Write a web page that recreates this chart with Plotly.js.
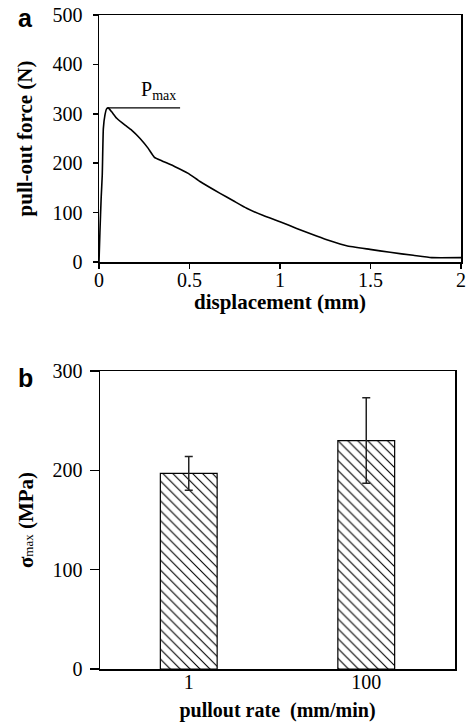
<!DOCTYPE html>
<html>
<head>
<meta charset="utf-8">
<script src="https://cdn.plot.ly/plotly-3.0.1.min.js"></script>
<style>html,body{margin:0;padding:0;background:#fff;}#chart{width:470px;height:726px;}</style>
</head>
<body>
<div id="chart"></div>
<script>
// Panel a: force-displacement curve
const displacement = [0, 0.005, 0.012, 0.018, 0.024, 0.033, 0.042, 0.051, 0.07, 0.098, 0.144, 0.18, 0.227, 0.272, 0.306, 0.346, 0.42, 0.493, 0.558, 0.669, 0.742, 0.816, 0.908, 1.0, 1.092, 1.202, 1.276, 1.368, 1.497, 1.608, 1.736, 1.838, 2.0];
const force = [0, 60, 130, 176, 270, 298, 310, 312, 304, 291, 277, 267, 250, 230, 212, 205, 193, 179.5, 163, 139, 124, 108.7, 94, 81.6, 68, 52.6, 43, 33, 25.6, 19.6, 13.5, 8.8, 8.8];
const pmaxLineX = [0.051, 0.448];
const pmaxLineY = [312, 312];

// Panel b: max stress by pullout rate
const rates = ["1", "100"];
const sigmaMax = [197, 230];
const sigmaErr = [17, 43];

const serif = "Liberation Serif, Times New Roman, serif";
const W = 470, H = 726;

const traces = [
  {x: displacement, y: force, type: 'scatter', mode: 'lines', line: {color: '#000', width: 1.6, shape: 'spline', smoothing: 0.4}, xaxis: 'x', yaxis: 'y', hoverinfo: 'skip'},
  {x: pmaxLineX, y: pmaxLineY, type: 'scatter', mode: 'lines', line: {color: '#000', width: 1.4}, xaxis: 'x', yaxis: 'y', hoverinfo: 'skip'},
  {x: rates, y: sigmaMax, type: 'bar', xaxis: 'x2', yaxis: 'y2', width: 0.32,
   marker: {color: '#fff', line: {color: '#000', width: 1.2},
            pattern: {shape: '\\', size: 7, solidity: 0.16, fgcolor: '#000', bgcolor: '#fff'}},
   error_y: {type: 'data', array: sigmaErr, visible: true, color: '#222', thickness: 1.5, width: 4}}
];

function ax(extra) {
  return Object.assign({showgrid: false, zeroline: false, showline: true, linecolor: '#000', linewidth: 1.5, mirror: true,
    ticks: 'outside', tickcolor: '#000', tickwidth: 1.5,
    tickfont: {family: serif, size: 20, color: '#000'}, automargin: false}, extra);
}

const layout = {
  width: W, height: H, margin: {l: 0, r: 0, t: 0, b: 0}, showlegend: false,
  font: {family: serif, color: '#000'},
  paper_bgcolor: '#fff', plot_bgcolor: '#fff', bargap: 0,
  xaxis: ax({domain: [99/W, 461/W], range: [0, 2], dtick: 0.5, tick0: 0, ticklen: 5, anchor: 'y', ticklabelstandoff: -6,
    title: {text: '<b>displacement (mm)</b>', font: {family: serif, size: 21, color: '#000'}, standoff: 0}}),
  yaxis: ax({domain: [1 - 262/H, 1 - 15/H], range: [0, 500], dtick: 100, ticklen: 5, anchor: 'x', ticklabelstandoff: 6,
    title: {text: '<b>pull-out force (N)</b>', font: {family: serif, size: 21, color: '#000'}, standoff: 14}}),
  xaxis2: ax({domain: [100/W, 455/W], type: 'category', range: [-0.5, 1.5], ticks: '', anchor: 'y2', ticklabelstandoff: -6,
    title: {text: '<b>pullout rate  (mm/min)</b>', font: {family: serif, size: 20, color: '#000'}, standoff: 11}}),
  yaxis2: ax({domain: [1 - 669/H, 1 - 371/H], range: [0, 300], dtick: 100, ticklen: 9, anchor: 'x2', ticklabelstandoff: 3,
    title: {text: '<b>σ</b><span style="font-size:13px">max</span><b> (MPa)</b>', font: {family: serif, size: 21, color: '#000'}, standoff: 13}}),
  annotations: [
    {text: 'P<sub>max</sub>', x: 0.33, y: 318, xref: 'x', yref: 'y', showarrow: false, xanchor: 'center', yanchor: 'bottom',
     font: {family: serif, size: 20, color: '#000'}},
    {text: '<b>a</b>', x: 25/W, y: 1 - 2/H, xref: 'paper', yref: 'paper', showarrow: false, xanchor: 'center', yanchor: 'top',
     font: {family: 'Liberation Sans', size: 25, color: '#000'}},
    {text: '<b>b</b>', x: 25/W, y: 1 - 362/H, xref: 'paper', yref: 'paper', showarrow: false, xanchor: 'center', yanchor: 'top',
     font: {family: 'Liberation Sans', size: 25, color: '#000'}}
  ]
};

Plotly.newPlot('chart', traces, layout, {staticPlot: true, displayModeBar: false});
</script>
</body>
</html>
